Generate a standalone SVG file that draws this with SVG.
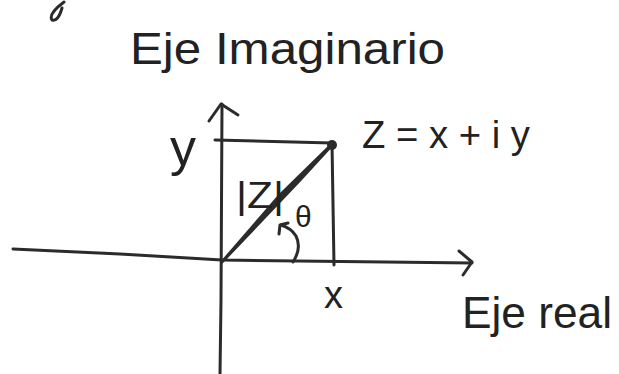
<svg xmlns="http://www.w3.org/2000/svg" width="619" height="374" viewBox="0 0 619 374">
<style>
.ln{fill:none;stroke:#2b2b2b;stroke-width:3;stroke-linecap:round;stroke-linejoin:round}
.tx{font-family:"Liberation Sans","DejaVu Sans",sans-serif;fill:#222}
</style>
<rect width="619" height="374" fill="#ffffff"/>
<path class="ln" d="M64 2 Q48 14 52 20 Q58 22 62 8" stroke-width="2.5"/>
<g id="connectors">
  <path id="real-axis" class="ln" d="M13 249 L120 254 L222 260 L472 263"/>
  <path id="real-arrow" class="ln" d="M459 251 L472 262 L463 275"/>
  <path id="imag-axis" class="ln" d="M220 374 L221 300 L222 104"/>
  <path id="imag-arrow" class="ln" d="M209 121 L221 104 L238 115"/>
  <path id="y-line" class="ln" d="M215 140 L332 143"/>
  <path id="x-line" class="ln" d="M332 143 L334 265"/>
  <path id="modulus" d="M222 262 L300 180 L333 144 L328 148 L280 195 Z" fill="#2b2b2b" stroke="#2b2b2b" stroke-width="3" stroke-linejoin="round"/>
  <path id="angle-arc" class="ln" d="M293 262 Q302 248 296 236 Q291 228 281 225" stroke-width="2.5"/>
  <path id="angle-arrow" class="ln" d="M279 234 L280 225 L288 223" stroke-width="2.5"/>
</g>
<g id="point-z"><circle cx="332" cy="145" r="5" fill="#2b2b2b"/></g>
<g id="title"><text class="tx" x="130" y="64" font-size="44" textLength="315" lengthAdjust="spacingAndGlyphs">Eje Imaginario</text></g>
<g id="label-y"><text class="tx" x="170" y="165" font-size="52">y</text></g>
<g id="label-z"><text class="tx" x="362" y="148" font-size="38" textLength="168" lengthAdjust="spacingAndGlyphs">Z = x + i y</text></g>
<g id="label-mod"><text class="tx" x="236" y="208" font-size="36" textLength="48" lengthAdjust="spacingAndGlyphs">|Z|</text></g>
<g id="label-theta"><text class="tx" x="295" y="227" font-size="30">θ</text></g>
<g id="label-x"><text class="tx" x="324" y="308" font-size="38">x</text></g>
<g id="label-real"><text class="tx" x="462" y="328" font-size="44" textLength="150" lengthAdjust="spacingAndGlyphs">Eje real</text></g>
</svg>
